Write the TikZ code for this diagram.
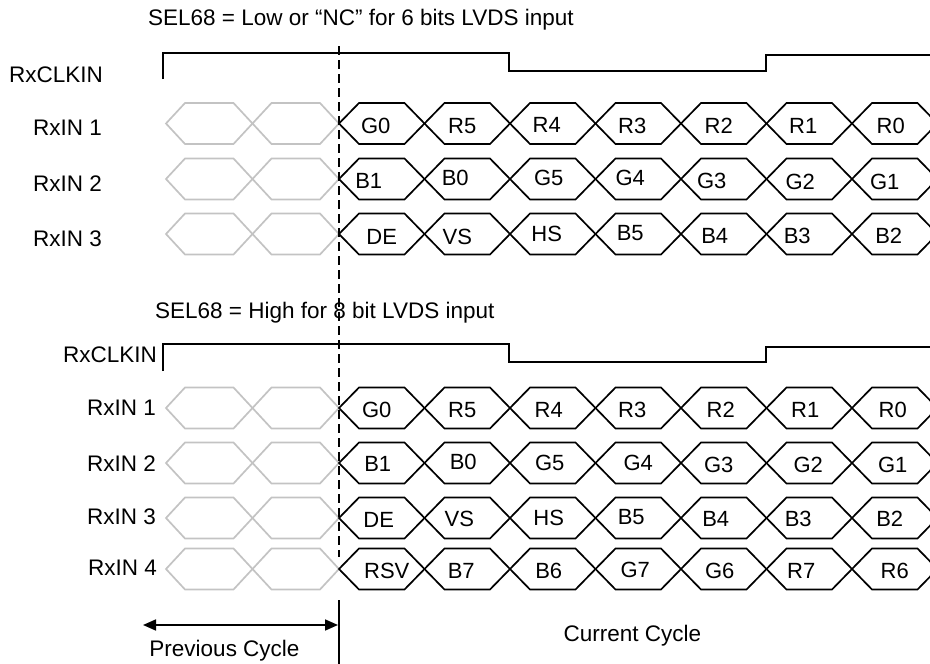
\documentclass[tikz,border=0pt]{standalone}
\usepackage{fontspec}
\setmainfont{Liberation Sans}
\usetikzlibrary{arrows.meta}
\definecolor{ghostgray}{RGB}{195,195,195}
\tikzset{
  bit/.style={draw=black, line width=1.7pt, line join=miter},
  ghost/.style={draw=ghostgray, line width=1.7pt, line join=miter},
  clk/.style={draw=black, line width=1.7pt},
  lbl/.style={font=\fontsize{22}{25}\selectfont, inner sep=0pt},
  txt/.style={font=\fontsize{22.5}{26}\selectfont, inner sep=0pt},
  cut/.style={draw=black, line width=1.4pt, dash pattern=on 9pt off 5pt},
}
\newcommand\sigrow[3]{%
  \foreach \k in {0,1} {%
    \draw[ghost] ({166+\k*86.5},#1) -- ++(19,-20.5) -- ++(48.5,0) -- ++(19,20.5) -- ++(-19,20.5) -- ++(-48.5,0) -- cycle;}
  \foreach [count=\i from 0] \t/\dx/\dy in {#3} {%
    \draw[bit] ({339+\i*85.5},#1) -- ++(20,-20.5) -- ++(45.5,0) -- ++(20,20.5) -- ++(-20,20.5) -- ++(-45.5,0) -- cycle;
    \node[lbl] (#2-\i) at ({339+\i*85.5+42.75+\dx},{#1+\dy}) {\t};
  }%
}
\begin{document}
\begin{tikzpicture}[x=1pt,y=-1pt]
\useasboundingbox (0,0) rectangle (930,664);
\clip (0,0) rectangle (930,664);
% titles
\node[txt, anchor=west] (t1) at (148,20) {SEL68 = Low or “NC” for 6 bits LVDS input};
\node[txt, anchor=west] (t2) at (155,313) {SEL68 = High for 8 bit LVDS input};
% top section labels
\node[txt, anchor=west] (c1) at (9,75) {RxCLKIN};
\node[txt, anchor=west] (a1) at (33,128) {RxIN 1};
\node[txt, anchor=west] (a2) at (33,183.5) {RxIN 2};
\node[txt, anchor=west] (a3) at (33,238.5) {RxIN 3};
% bottom section labels
\node[txt, anchor=east] (c2) at (157,355) {RxCLKIN};
\node[txt, anchor=east] (b1) at (156,408) {RxIN 1};
\node[txt, anchor=east] (b2) at (156,463.5) {RxIN 2};
\node[txt, anchor=east] (b3) at (156,517) {RxIN 3};
\node[txt, anchor=east] (b4) at (157,568) {RxIN 4};
% clocks
\draw[clk] (163,79) -- (163,53) -- (509,53) -- (509,71) -- (766,71) -- (766,55) -- (935,55);
\draw[clk] (163,371) -- (163,344) -- (509,344) -- (509,362) -- (766,362) -- (766,347) -- (935,347);
% signal rows
\sigrow{123.5}{ta}{G0/-6/2.5,R5/-5/2.5,R4/-6/1.5,R3/-6/2.5,R2/-5/2.5,R1/-6/2.5,R0/-4/2.5}
\sigrow{179}{tb}{B1/-13/1.5,B0/-12/-1,G5/-4/-1,G4/-8/-1,G3/-12/2,G2/-9/2.5,G1/-10/3}
\sigrow{234}{tc}{DE/0/2.5,VS/-10/2.5,HS/-6/0,B5/-8/-0.5,B4/-9/2,B3/-12/2,B2/-6/2}
\sigrow{408}{ba}{G0/-5/2,R5/-5/2,R4/-4/2,R3/-6/2,R2/-3/2,R1/-4/2,R0/-2/2}
\sigrow{463}{bb}{B1/-4/0.5,B0/-4/-1.5,G5/-3/0,G4/0/-0.5,G3/-5/2,G2/-1/2,G1/-2/2}
\sigrow{518}{bc}{DE/-3/2,VS/-8/1,HS/-4/0,B5/-7/-0.5,B4/-8/1,B3/-11/1,B2/-5/1}
\sigrow{569}{bd}{RSV/5/2,B7/-6/2,B6/-4/2,G7/-3/1,G6/-4/2,R7/-8/2,R6/0/2}
% cycle boundary
\coordinate (d0) at (339,46);
\coordinate (d1) at (339,557);
\coordinate (s0) at (339,600);
\coordinate (s1) at (339,664);
\draw[cut] (d0) -- (d1);
\draw[black, line width=1.4pt] (s0) -- (s1);
% previous cycle arrow
\coordinate (p0) at (143,625);
\coordinate (p1) at (338,625);
\draw[black, line width=1.7pt, {Triangle[length=13pt,width=11pt]}-{Triangle[length=13pt,width=11pt]}] (p0) -- (p1);
\node[txt] (prev) at (224.5,651) {Previous Cycle};
\node[txt] (curr) at (632.5,636) {Current Cycle};
\end{tikzpicture}
\end{document}
